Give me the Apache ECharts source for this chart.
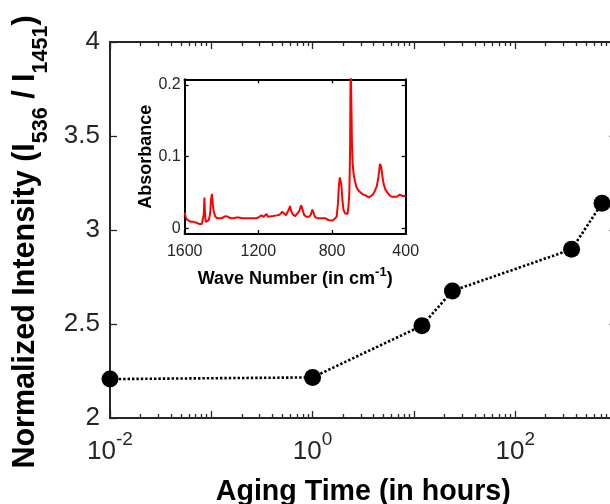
<!DOCTYPE html>
<html>
<head>
<meta charset="utf-8">
<script src="https://cdn.jsdelivr.net/npm/echarts@6/dist/echarts.min.js"></script>
<style>
  html, body { margin: 0; padding: 0; background: #fff; }
  #chart { width: 610px; height: 504px; }
</style>
</head>
<body>
<div id="chart"></div>
<script>
// Main series: intensity ratio versus aging time
const agingHours = [0.01, 1, 12, 24, 360, 720];
const intensityRatio = [2.207, 2.216, 2.491, 2.676, 2.897, 3.142];

// Inset: FTIR spectrum
const waveNumber = [
  1600, 1595, 1588, 1578, 1565, 1550, 1540, 1530, 1518, 1507, 1500, 1496, 1493, 1490, 1486,
  1478, 1470, 1462, 1457, 1452, 1448, 1443, 1435, 1425, 1415, 1400, 1390, 1378, 1365, 1350,
  1335, 1318, 1305, 1290, 1270, 1250, 1230, 1210, 1195, 1183, 1178, 1172, 1162, 1155, 1148,
  1138, 1120, 1100, 1085, 1070, 1062, 1050, 1040, 1032, 1028, 1022, 1012, 1000, 990, 978,
  968, 962, 952, 940, 925, 915, 907, 902, 893, 880, 865, 850, 842, 836, 825,
  810, 795, 785, 775, 768, 763, 758, 754, 749, 744, 738, 730, 722, 716, 711,
  706, 702, 699, 696, 692, 688, 683, 676, 668, 658, 645, 632, 625, 618, 610,
  600, 590, 578, 568, 558, 550, 544, 540, 537, 533, 528, 520, 510, 500, 488,
  475, 460, 448, 438, 432, 425, 418, 410, 404, 400
];
const absorbance = [
  0.022, 0.016, 0.012, 0.010, 0.009, 0.009, 0.008, 0.007, 0.006, 0.006, 0.008, 0.020, 0.043, 0.022, 0.009,
  0.009, 0.011, 0.020, 0.040, 0.048, 0.036, 0.024, 0.017, 0.014, 0.013, 0.014, 0.016, 0.017, 0.016, 0.014,
  0.014, 0.015, 0.015, 0.014, 0.014, 0.014, 0.014, 0.014, 0.016, 0.018, 0.019, 0.016, 0.017, 0.020, 0.016,
  0.016, 0.017, 0.018, 0.019, 0.023, 0.021, 0.018, 0.019, 0.028, 0.031, 0.024, 0.019, 0.017, 0.018, 0.024,
  0.032, 0.028, 0.019, 0.016, 0.016, 0.019, 0.026, 0.023, 0.016, 0.014, 0.014, 0.014, 0.016, 0.014, 0.012,
  0.011, 0.011, 0.012, 0.016, 0.034, 0.058, 0.071, 0.072, 0.060, 0.040, 0.026, 0.021, 0.019, 0.020, 0.030,
  0.049, 0.110, 0.230, 0.190, 0.120, 0.090, 0.076, 0.066, 0.058, 0.053, 0.050, 0.047, 0.048, 0.046, 0.044,
  0.043, 0.044, 0.047, 0.052, 0.058, 0.068, 0.080, 0.090, 0.092, 0.086, 0.075, 0.062, 0.054, 0.050, 0.046,
  0.044, 0.044, 0.044, 0.045, 0.047, 0.046, 0.045, 0.046, 0.045, 0.044
];

// Tick values
const mainYTickStep = 0.5;
const insetYLabels = [0, 0.1, 0.2];
const insetXTickStep = 400;

const FONT = '"Liberation Sans", Arial, Helvetica, sans-serif';
const AXIS_COLOR = '#262626';
const TEXT_COLOR = '#262626';

// Minor ticks of the log axis: 2..9 times each decade
const minorLogTicks = [];
for (let e = -2; e < 3; e++) {
  for (let k = 2; k <= 9; k++) minorLogTicks.push(+(k * Math.pow(10, e)).toPrecision(3));
}

const chart = echarts.init(document.getElementById('chart'), null, { renderer: 'canvas' });

const mainLine = { show: true, onZero: false, lineStyle: { color: AXIS_COLOR, width: 2 } };
const insetLine = { show: true, onZero: false, lineStyle: { color: '#000', width: 2 } };
const noSplit = { show: false };

function logAxis(position, withLabels, minor) {
  const ax = {
    type: 'log', logBase: 10, gridIndex: 0, min: 0.01, max: 1000, position: position,
    axisLine: mainLine,
    splitLine: noSplit,
    axisTick: { show: true, inside: true, length: minor ? 4 : 7, lineStyle: { color: AXIS_COLOR, width: 1.3 } },
    axisLabel: { show: false }
  };
  if (minor) ax.axisTick.customValues = minorLogTicks;
  if (withLabels) {
    ax.axisLabel = {
      show: true, margin: 12, fontFamily: FONT, color: TEXT_COLOR,
      formatter: function (v) {
        const e = Math.round(Math.log10(v));
        if (e % 2 !== 0) return '';
        return '{b|10}{s|' + e + '}';
      },
      rich: {
        b: { fontSize: 26, fontFamily: FONT, color: TEXT_COLOR },
        s: { fontSize: 19, fontFamily: FONT, color: TEXT_COLOR, padding: [0, 0, 24, 0] }
      }
    };
    ax.name = 'Aging Time (in hours)';
    ax.nameLocation = 'middle';
    ax.nameGap = 60;
    ax.nameTextStyle = { fontFamily: FONT, fontSize: 28.6, fontWeight: 'bold', color: '#000' };
  }
  return ax;
}

const option = {
  animation: false,
  backgroundColor: '#fff',
  grid: [
    { left: 110, top: 42, width: 506.5, height: 376, outerBoundsMode: 'none', containLabel: false },
    { left: 184.7, top: 79.3, width: 221, height: 154.7, show: true, backgroundColor: '#fff', borderWidth: 0,
      outerBoundsMode: 'none', containLabel: false, z: 5 }
  ],
  xAxis: [
    logAxis('bottom', true, false),
    logAxis('bottom', false, true),
    logAxis('top', false, false),
    logAxis('top', false, true),
    {
      type: 'value', gridIndex: 1, inverse: true, min: 400, max: 1600, interval: insetXTickStep, position: 'bottom',
      axisLine: insetLine, splitLine: noSplit, z: 6,
      axisTick: { show: true, inside: true, length: 4, lineStyle: { color: '#000', width: 1.3 } },
      axisLabel: { show: true, margin: 10, fontSize: 16, fontFamily: FONT, color: TEXT_COLOR,
                   formatter: function (v) { return String(v); } },
      name: '{t|Wave Number (in cm}{u|-1}{t|)}',
      nameLocation: 'middle', nameGap: 32,
      nameTextStyle: {
        rich: {
          t: { fontFamily: FONT, fontSize: 18, fontWeight: 'bold', color: '#000' },
          u: { fontFamily: FONT, fontSize: 13, fontWeight: 'bold', color: '#000', padding: [0, 0, 14, 0] }
        }
      }
    },
    {
      type: 'value', gridIndex: 1, inverse: true, min: 400, max: 1600, interval: insetXTickStep, position: 'top',
      axisLine: insetLine, splitLine: noSplit, z: 6,
      axisTick: { show: true, inside: true, length: 4, lineStyle: { color: '#000', width: 1.3 } },
      axisLabel: { show: false }
    }
  ],
  yAxis: [
    {
      type: 'value', gridIndex: 0, min: 2, max: 4, interval: mainYTickStep, position: 'left',
      axisLine: mainLine, splitLine: noSplit,
      axisTick: { show: true, inside: true, length: 7, lineStyle: { color: AXIS_COLOR, width: 1.3 } },
      axisLabel: { show: true, margin: 10, fontSize: 26, fontFamily: FONT, color: TEXT_COLOR },
      name: '{n|Normalized Intensity (I}{s|536}{n| / I}{s|1451}{n|)}',
      nameLocation: 'middle', nameGap: 58, nameRotate: 90,
      nameTextStyle: {
        padding: [0, 24, 0, 0],
        rich: {
          n: { fontFamily: FONT, fontSize: 30.5, fontWeight: 'bold', color: '#000' },
          s: { fontFamily: FONT, fontSize: 21.5, fontWeight: 'bold', color: '#000', padding: [30, 0, 0, 0] }
        }
      }
    },
    {
      type: 'value', gridIndex: 0, min: 2, max: 4, interval: mainYTickStep, position: 'right',
      axisLine: mainLine, splitLine: noSplit,
      axisTick: { show: true, inside: true, length: 7, lineStyle: { color: AXIS_COLOR, width: 1.3 } },
      axisLabel: { show: false }
    },
    {
      type: 'value', gridIndex: 1, min: -0.008, max: 0.208, position: 'left',
      axisLine: insetLine, splitLine: noSplit, z: 6,
      axisTick: { show: true, inside: true, length: 4, customValues: insetYLabels, lineStyle: { color: '#000', width: 1.3 } },
      axisLabel: { show: true, margin: 4, fontSize: 16, fontFamily: FONT, color: TEXT_COLOR, customValues: insetYLabels },
      name: 'Absorbance', nameLocation: 'middle', nameGap: 30, nameRotate: 90,
      nameTextStyle: { fontFamily: FONT, fontSize: 18, fontWeight: 'bold', color: '#000' }
    },
    {
      type: 'value', gridIndex: 1, min: -0.008, max: 0.208, position: 'right',
      axisLine: insetLine, splitLine: noSplit, z: 6,
      axisTick: { show: true, inside: true, length: 4, customValues: insetYLabels, lineStyle: { color: '#000', width: 1.3 } },
      axisLabel: { show: false }
    }
  ],
  series: [
    {
      type: 'line', xAxisIndex: 0, yAxisIndex: 0,
      data: agingHours.map((h, i) => [h, intensityRatio[i]]),
      symbol: 'circle', symbolSize: 17, clip: false,
      itemStyle: { color: '#000' },
      lineStyle: { color: '#000', width: 2.6, type: [2.4, 2] },
      emphasis: { disabled: true }, z: 3
    },
    {
      type: 'line', xAxisIndex: 4, yAxisIndex: 2,
      data: waveNumber.map((w, i) => [w, absorbance[i]]),
      symbol: 'none', showSymbol: false, clip: true,
      lineStyle: { color: '#ff0000', width: 2 },
      emphasis: { disabled: true }, z: 7
    }
  ]
};

chart.setOption(option);
</script>
</body>
</html>
